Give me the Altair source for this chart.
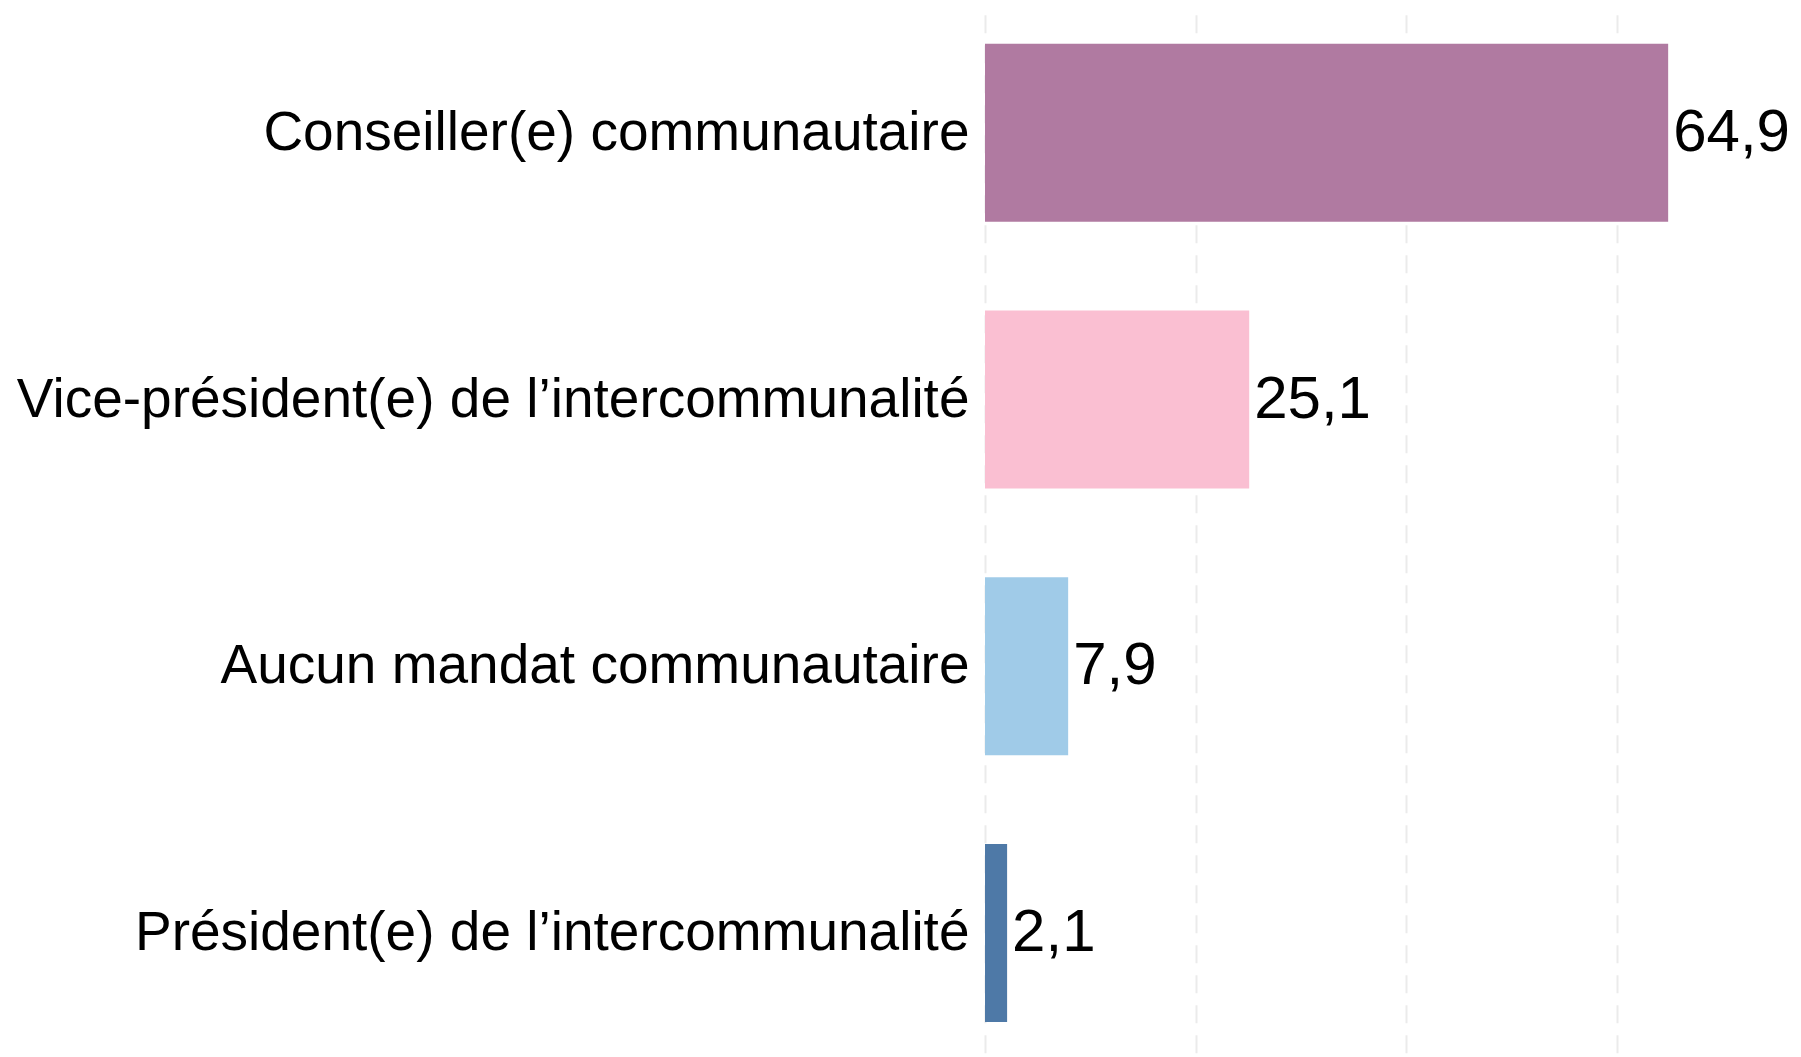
import altair as alt
import pandas as pd

categories = [
    "Conseiller(e) communautaire",
    "Vice-président(e) de l’intercommunalité",
    "Aucun mandat communautaire",
    "Président(e) de l’intercommunalité",
]
values = [64.9, 25.1, 7.9, 2.1]
value_labels = ["64,9", "25,1", "7,9", "2,1"]
colors = ["#b07aa1", "#fabfd2", "#a0cbe8", "#4e79a7"]
x_ticks = [0, 20, 40, 60]

df = pd.DataFrame({"cat": categories, "val": values, "lab": value_labels})

FONT = "Liberation Sans, Arial, sans-serif"

y_enc = alt.Y(
    "cat:N",
    sort=categories,
    scale=alt.Scale(range=[-8.7, 1058.5], paddingInner=0.333, paddingOuter=0.1665),
    axis=alt.Axis(
        title=None, domain=False, ticks=False, labelFontSize=55, labelFont=FONT,
        labelColor="#000000", labelLimit=0, labelPadding=16, grid=False,
    ),
)
x_enc = alt.X(
    "val:Q",
    scale=alt.Scale(domain=[0, 76], nice=False),
    axis=alt.Axis(
        title=None, values=x_ticks, labels=False, ticks=False, domain=False,
        grid=True, gridColor="#ebebeb", gridWidth=2, gridDash=[18, 12],
    ),
)

bars = alt.Chart(df).mark_bar().encode(
    x=x_enc,
    y=y_enc,
    color=alt.Color("cat:N", scale=alt.Scale(domain=categories, range=colors), legend=None),
)

text = alt.Chart(df).mark_text(
    align="left", baseline="middle", dx=5, fontSize=60, font=FONT, color="#000000"
).encode(
    x=alt.X("val:Q"),
    y=alt.Y("cat:N", sort=categories),
    text="lab:N",
)

chart = alt.layer(bars, text).properties(
    width=800, height=1036,
    padding={"left": 8, "right": 0, "top": 0, "bottom": 0},
).configure(background="#ffffff").configure_view(strokeWidth=0, stroke="transparent")

chart.save("out.html", embed_options={"renderer": "svg", "actions": False})
